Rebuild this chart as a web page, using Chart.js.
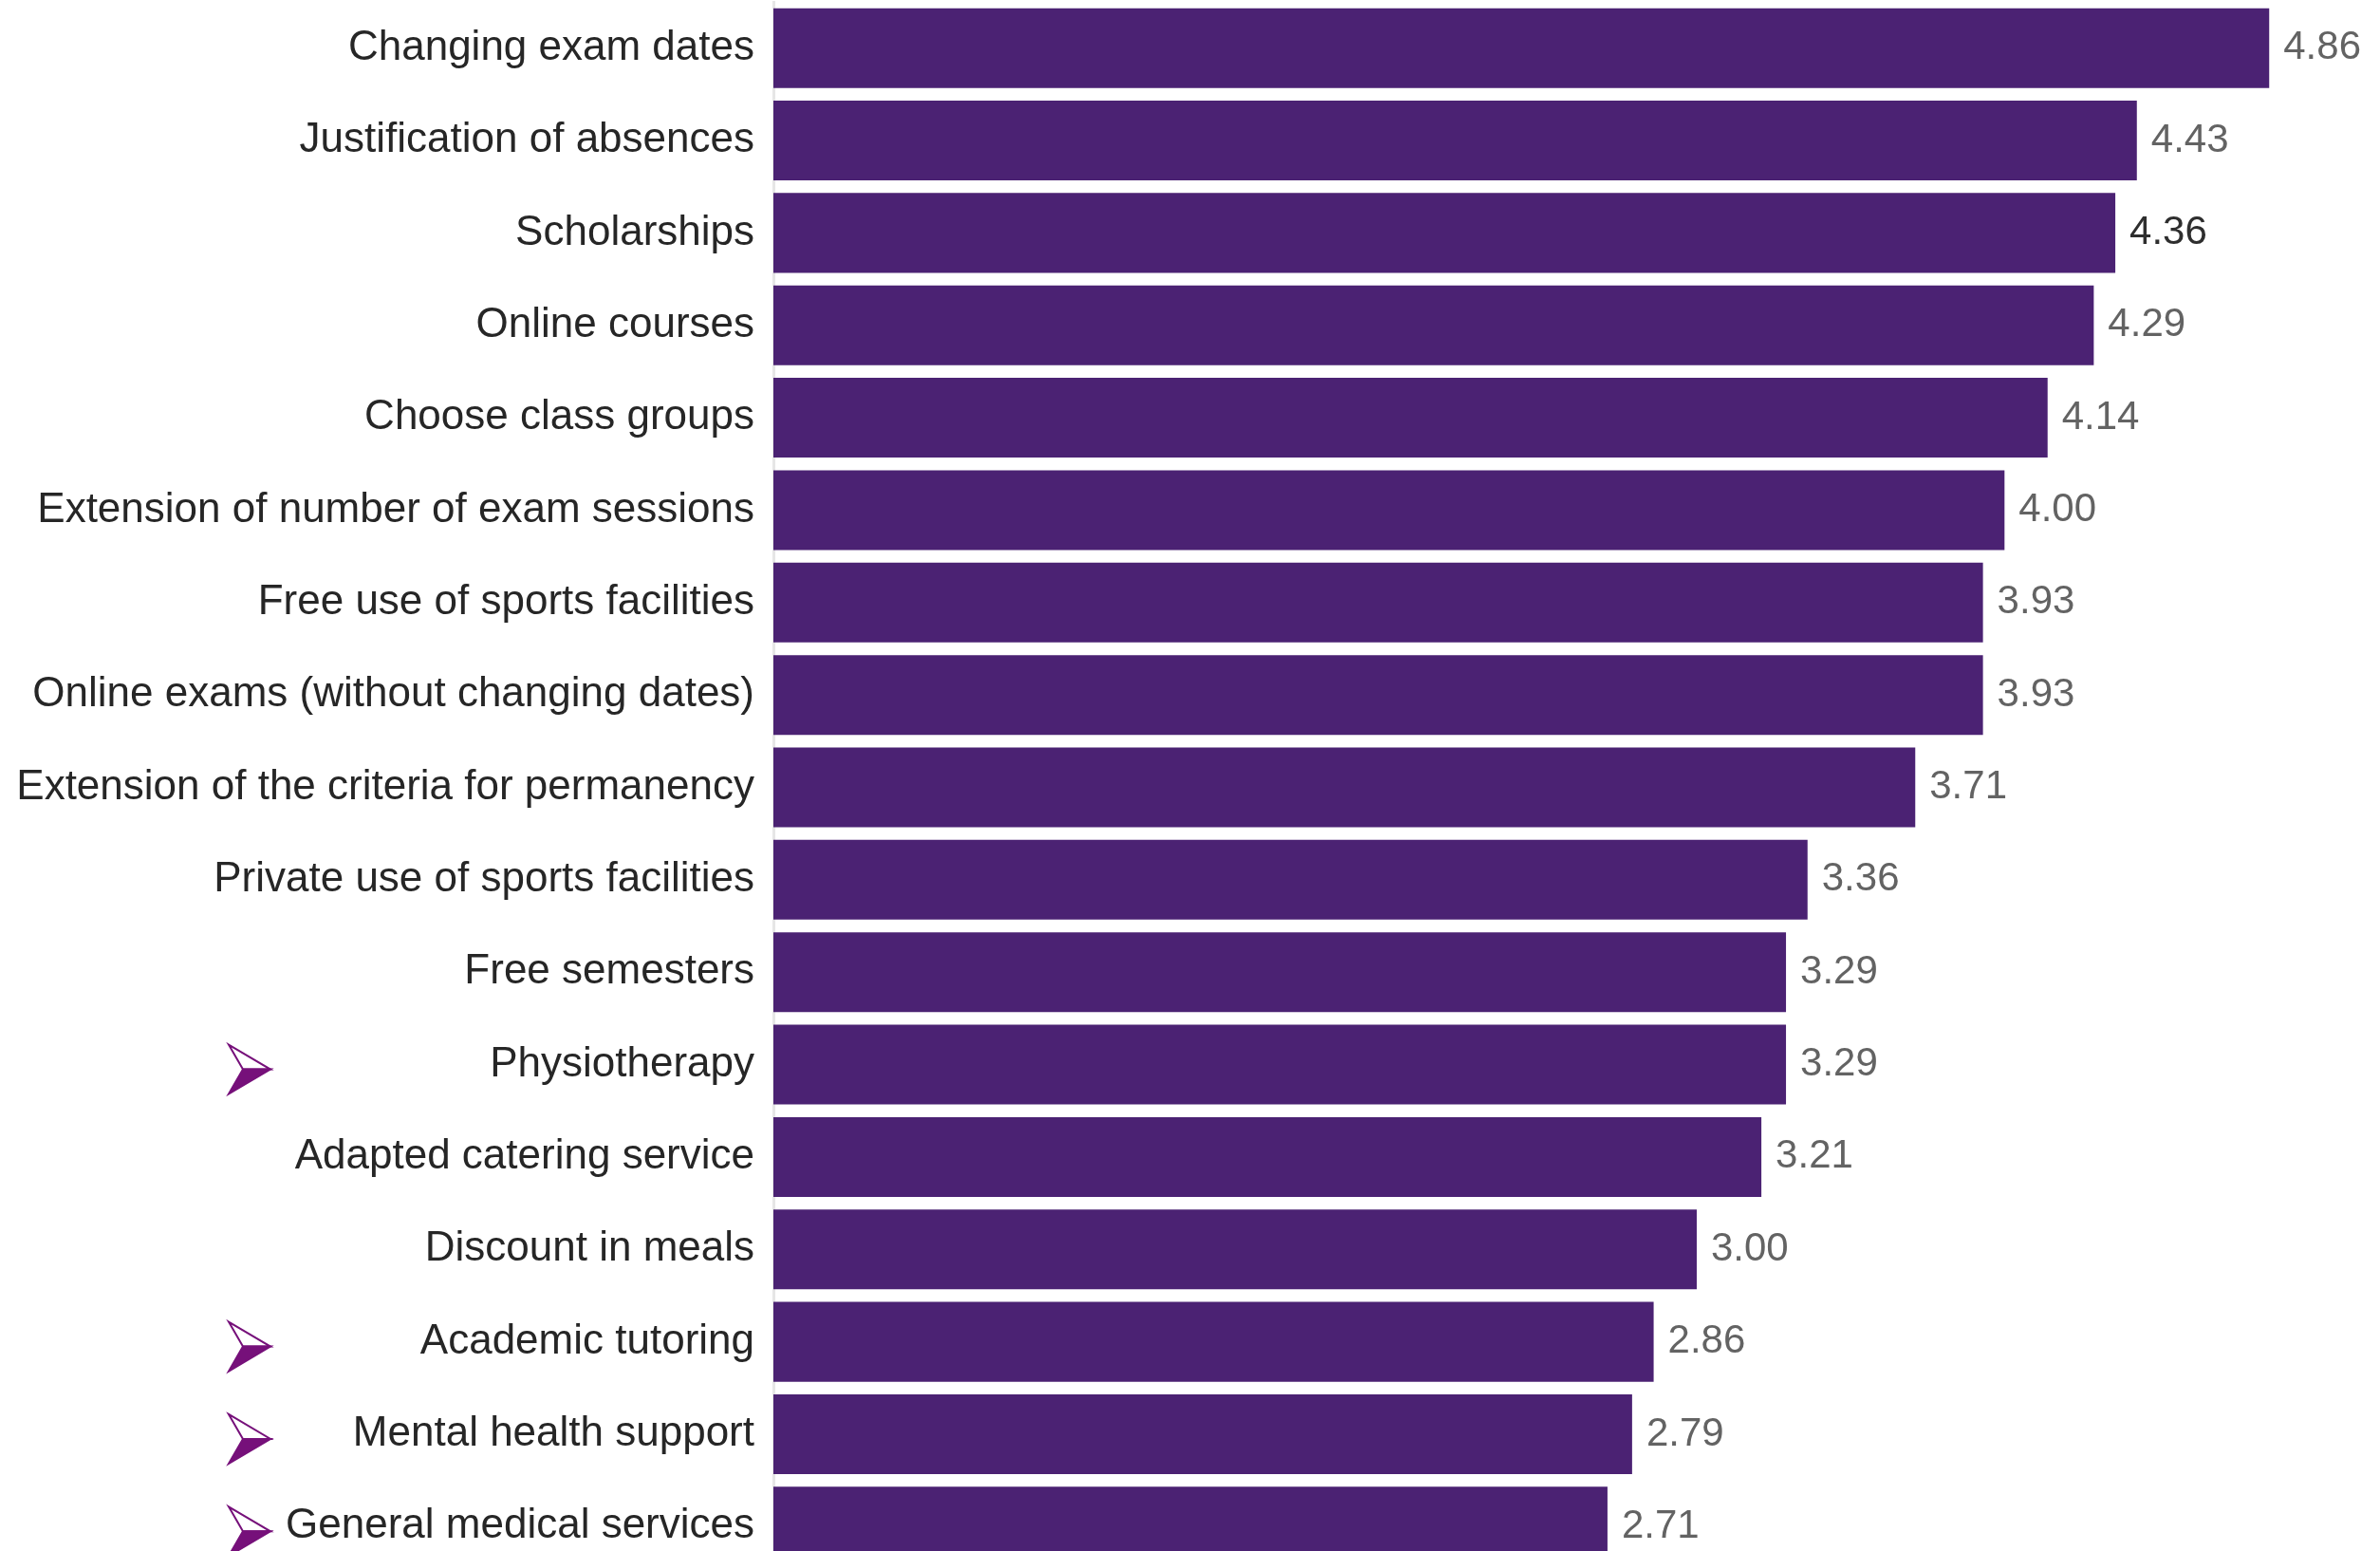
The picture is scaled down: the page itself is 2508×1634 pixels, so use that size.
<!DOCTYPE html>
<html>
<head>
<meta charset="utf-8">
<script src="https://cdn.jsdelivr.net/npm/chart.js@4.4.0/dist/chart.umd.min.js"></script>
<style>
    html, body { margin: 0; padding: 0; background: #fff; overflow: hidden; }
    #wrap { width: 2508px; height: 1657px; }
</style>
</head>
<body>
<div id="wrap"><canvas id="servicesChart" width="2508" height="1657"></canvas></div>
<script>
const categories = [
    'Changing exam dates',
    'Justification of absences',
    'Scholarships',
    'Online courses',
    'Choose class groups',
    'Extension of number of exam sessions',
    'Free use of sports facilities',
    'Online exams (without changing dates)',
    'Extension of the criteria for permanency',
    'Private use of sports facilities',
    'Free semesters',
    'Physiotherapy',
    'Adapted catering service',
    'Discount in meals',
    'Academic tutoring',
    'Mental health support',
    'General medical services'
];
const scores = [4.86, 4.43, 4.36, 4.29, 4.14, 4.00, 3.93, 3.93, 3.71, 3.36, 3.29, 3.29, 3.21, 3.00, 2.86, 2.79, 2.71];
const markedCategories = ['Physiotherapy', 'Academic tutoring', 'Mental health support', 'General medical services'];
const highlightedCategory = 'Scholarships';

// values right of the bars
const valueLabels = {
    id: 'valueLabels',
    afterDatasetsDraw(chart) {
        const ctx = chart.ctx;
        const meta = chart.getDatasetMeta(0);
        ctx.save();
        ctx.font = '42px "Liberation Sans", Arial, sans-serif';
        ctx.textAlign = 'left';
        ctx.textBaseline = 'middle';
        meta.data.forEach((bar, i) => {
            ctx.fillStyle = categories[i] === highlightedCategory ? '#2e2e2e' : '#636363';
            ctx.fillText(scores[i].toFixed(2), bar.x + 15, bar.y);
        });
        ctx.restore();
    }
};

// purple arrowheads in front of some categories
const arrowMarks = {
    id: 'arrowMarks',
    afterDraw(chart) {
        const ctx = chart.ctx;
        const yScale = chart.scales.y;
        ctx.save();
        markedCategories.forEach(name => {
            const idx = categories.indexOf(name);
            if (idx < 0) return;
            const cy = yScale.getPixelForValue(idx) + 5;
            const left = 241, tip = 285, notchX = 256;
            const top = cy - 26, bottom = cy + 26;
            ctx.lineJoin = 'miter';
            ctx.lineWidth = 2;
            ctx.strokeStyle = '#76107a';
            ctx.fillStyle = '#ffffff';
            ctx.beginPath();
            ctx.moveTo(left, top);
            ctx.lineTo(tip, cy);
            ctx.lineTo(notchX, cy);
            ctx.closePath();
            ctx.fill();
            ctx.stroke();
            ctx.fillStyle = '#76107a';
            ctx.beginPath();
            ctx.moveTo(notchX, cy);
            ctx.lineTo(tip, cy);
            ctx.lineTo(left, bottom);
            ctx.closePath();
            ctx.fill();
            ctx.stroke();
        });
        ctx.restore();
    }
};

const ctx = document.getElementById('servicesChart').getContext('2d');
new Chart(ctx, {
    type: 'bar',
    data: {
        labels: categories,
        datasets: [{
            data: scores,
            backgroundColor: '#4b2273',
            borderWidth: 0,
            categoryPercentage: 1,
            barPercentage: 0.863
        }]
    },
    options: {
        indexAxis: 'y',
        responsive: false,
        animation: false,
        layout: { padding: { top: 2, right: 0, bottom: 0, left: 0 } },
        plugins: {
            legend: { display: false },
            tooltip: { enabled: false },
            title: { display: false }
        },
        scales: {
            x: {
                display: false,
                min: 0,
                max: 5.22
            },
            y: {
                afterFit: scale => {
                    scale.width = 815;
                    scale.paddingTop = 0;
                    scale.paddingBottom = 0;
                },
                grid: { display: false, drawTicks: false },
                border: { display: true, color: '#e6e6e6', width: 3 },
                ticks: {
                    padding: 20,
                    color: '#262626',
                    font: { family: '"Liberation Sans", Arial, sans-serif', size: 44 },
                    autoSkip: false
                }
            }
        }
    },
    plugins: [valueLabels, arrowMarks]
});
</script>
</body>
</html>
